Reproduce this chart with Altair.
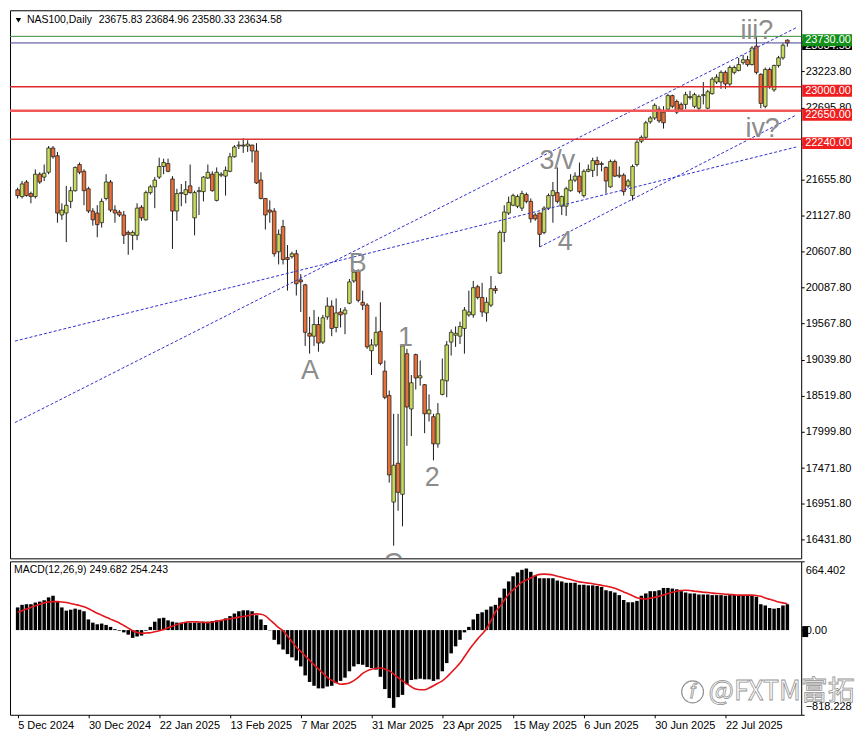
import json
import numpy as np
import pandas as pd
import altair as alt

# ---------------- data ----------------
OPEN = [21507, 21408, 21619, 21451, 21408, 21732, 21690, 21760, 22111, 21999,
        21141, 21169, 21338, 21493, 21872, 21774, 21521, 21198, 21169, 21029,
        21380, 21619, 21212, 21183, 21141, 20888, 20846, 20846, 21254, 21071,
        21465, 21549, 21690, 21844, 21886, 21662, 21198, 21451, 21437, 21563,
        21099, 21479, 21479, 21676, 21732, 21352, 21718, 21704, 21774, 21985,
        22140, 22154, 22140, 22154, 22069, 21647, 21380, 21212, 21198, 20607,
        20973, 20523, 20537, 20579, 20199, 20129, 19426, 19384, 19553, 19299,
        19665, 19820, 19510, 19735, 19707, 19862, 20185, 20326, 19876, 19834,
        19173, 19257, 19454, 18878, 18526, 16980, 17542, 17092, 19131, 18329,
        19117, 18779, 18681, 18259, 18217, 17823, 18540, 18737, 19299, 19398,
        19384, 19496, 19693, 19693, 20101, 19946, 19721, 19834, 20073, 20298,
        20888, 21169, 21282, 21268, 21240, 21437, 21338, 21141, 21169, 20888,
        21240, 21422, 21465, 21268, 21268, 21493, 21647, 21704, 21422, 21774,
        21788, 21929, 21872, 21830, 21549, 21915, 21704, 21718, 21563, 21422,
        21872, 22210, 22266, 22491, 22547, 22674, 22632, 22674, 22871, 22786,
        22744, 22744, 22843, 22716, 22688, 22871, 22688, 22899, 23068, 23068,
        23208, 23039, 23208, 23236, 23349, 23391, 23321, 23588, 23180, 22716,
        23250, 22955, 23307, 23419, 23675.83]
HIGH = [21535, 21633, 21647, 21479, 21802, 21760, 21872, 22140, 22140, 22055,
        21310, 21563, 21549, 21844, 21901, 21802, 21549, 21240, 21282, 21380,
        21732, 21647, 21282, 21212, 21198, 20916, 20916, 21310, 21282, 21493,
        21577, 21690, 21971, 21957, 21957, 21704, 21521, 21591, 21633, 21872,
        21493, 21549, 21704, 21872, 21774, 21830, 21760, 21844, 22041, 22154,
        22210, 22252, 22224, 22160, 22182, 21760, 21385, 21352, 21240, 20930,
        21071, 20705, 20607, 20635, 20284, 20143, 19665, 19763, 19665, 19693,
        19946, 19904, 19932, 19792, 19806, 20213, 20354, 20354, 20045, 19862,
        19342, 19665, 19876, 19032, 18597, 18259, 18259, 19271, 19201, 18821,
        19131, 19032, 18690, 18540, 18259, 18414, 19060, 19313, 19482, 19524,
        19595, 19806, 20045, 20185, 20129, 20157, 19946, 20256, 20115, 20916,
        21282, 21408, 21451, 21437, 21493, 21465, 21380, 21169, 21175, 21268,
        21451, 21619, 21830, 21422, 21549, 21732, 21760, 21901, 21802, 21872,
        21971, 21985, 21915, 21844, 21943, 21943, 21844, 21746, 21662, 21872,
        22224, 22294, 22505, 22575, 22758, 22716, 22716, 22899, 22885, 22814,
        22772, 22927, 22941, 22913, 22885, 23068, 22955, 23138, 23180, 23236,
        23236, 23307, 23307, 23419, 23461, 23447, 23588, 23728, 23194, 23278,
        23278, 23321, 23447, 23630, 23684.96]
LOW = [21380, 21380, 21408, 21310, 21380, 21591, 21633, 21732, 21957, 21029,
       21071, 20748, 21240, 21479, 21732, 21282, 21169, 20987, 20818, 20959,
       21352, 21183, 21029, 21113, 20720, 20565, 20635, 20776, 21057, 21057,
       21437, 21240, 21662, 21732, 21760, 20649, 21057, 21268, 21310, 21451,
       20846, 21141, 21338, 21662, 21479, 21338, 21690, 21422, 21760, 21971,
       22097, 22041, 22055, 21901, 21591, 21366, 20930, 21029, 20537, 20424,
       20424, 20045, 20509, 19974, 19735, 19243, 19131, 19243, 19159, 19271,
       19623, 19384, 19440, 19510, 19412, 19848, 20157, 19876, 19763, 19201,
       18821, 19229, 18962, 18470, 17261, 16347, 16853, 16628, 17795, 17936,
       18611, 18667, 17978, 18147, 17584, 17767, 18526, 18498, 19103, 19229,
       19271, 19131, 19665, 19651, 19918, 19665, 19595, 19806, 20002, 20284,
       20748, 21141, 21268, 21240, 21198, 21310, 21029, 21057, 20677, 20860,
       21212, 21029, 21310, 21141, 21127, 21479, 21619, 21451, 21394, 21760,
       21690, 21704, 21774, 21451, 21535, 21690, 21676, 21422, 21535, 21352,
       21844, 22182, 22238, 22463, 22519, 22477, 22393, 22660, 22688, 22604,
       22646, 22674, 22814, 22688, 22660, 22744, 22674, 22885, 23039, 22969,
       22969, 23011, 23180, 23222, 23321, 23292, 23307, 23180, 22688, 22688,
       22969, 22927, 23278, 23391, 23580.33]
CLOSE = [21422, 21591, 21422, 21408, 21732, 21619, 21746, 22111, 21985, 21169,
         21212, 21282, 21493, 21830, 21760, 21493, 21198, 21071, 21001, 21338,
         21619, 21212, 21169, 21141, 20846, 20860, 20888, 21240, 21099, 21465,
         21549, 21647, 21844, 21901, 21774, 21198, 21451, 21465, 21507, 21465,
         21465, 21493, 21690, 21760, 21493, 21760, 21732, 21788, 21985, 22126,
         22154, 22140, 22168, 22069, 21605, 21380, 21141, 21183, 20579, 20860,
         20495, 20495, 20579, 20143, 20171, 19440, 19384, 19553, 19285, 19651,
         19820, 19496, 19721, 19693, 19763, 20171, 20312, 19904, 19834, 19229,
         19257, 19440, 18990, 18498, 17373, 17514, 17120, 19243, 18357, 18709,
         18779, 18810, 18259, 18315, 17823, 18259, 18751, 19257, 19440, 19426,
         19524, 19763, 19735, 20087, 19946, 19735, 19876, 20073, 20045, 20888,
         21183, 21324, 21422, 21408, 21451, 21338, 21085, 21085, 20860, 21240,
         21422, 21493, 21338, 21408, 21521, 21647, 21704, 21479, 21774, 21802,
         21929, 21872, 21886, 21633, 21915, 21704, 21718, 21479, 21633, 21844,
         22196, 22266, 22477, 22547, 22730, 22505, 22477, 22871, 22716, 22632,
         22674, 22885, 22857, 22885, 22857, 22885, 22927, 23110, 23138, 23208,
         23039, 23278, 23278, 23321, 23391, 23321, 23560, 23208, 22758, 23250,
         22997, 23307, 23419, 23602, 23634.58]

MACD_MAIN = [219, 244, 250, 250, 266, 275, 288, 316, 332, 275,
             219, 188, 197, 207, 197, 182, 103, 72, 56, 63,
             50, 31, 9, -6, -22, -44, -75, -63, -53, -6,
             31, 81, 113, 119, 94, 81, 72, 72, 72, 72,
             72, 72, 81, 81, 88, 94, 94, 113, 135, 160,
             182, 191, 191, 182, 144, 103, 50, -3, -94, -138,
             -188, -232, -263, -294, -351, -438, -501, -538, -563, -563,
             -545, -538, -513, -491, -460, -398, -351, -329, -335, -357,
             -366, -382, -451, -570, -657, -751, -648, -626, -523, -482,
             -476, -470, -476, -476, -491, -476, -398, -319, -225, -157,
             -94, -22, 31, 103, 157, 172, 197, 228, 244, 313,
             401, 470, 520, 557, 582, 595, 563, 526, 501, 501,
             501, 501, 479, 470, 457, 457, 457, 438, 438, 432,
             432, 426, 416, 385, 376, 363, 338, 291, 269, 269,
             282, 332, 354, 376, 376, 385, 407, 407, 401, 394,
             376, 363, 354, 354, 344, 344, 344, 338, 338, 338,
             332, 338, 338, 332, 332, 332, 338, 322, 250, 238,
             213, 207, 213, 238, 249.682]
MACD_SIGNAL = [172, 188, 203, 219, 235, 250, 263, 272, 275, 275,
               272, 266, 257, 247, 238, 225, 207, 185, 163, 144,
               125, 106, 88, 69, 44, 19, -6, -22, -31, -28,
               -25, -16, -6, 6, 22, 38, 53, 66, 75, 81,
               81, 78, 75, 72, 78, 85, 94, 103, 110, 116,
               125, 131, 138, 150, 157, 153, 138, 100, 63, 25,
               -6, -56, -110, -163, -207, -250, -294, -335, -376, -416,
               -457, -485, -507, -523, -520, -510, -488, -457, -419, -394,
               -379, -369, -366, -376, -394, -426, -460, -491, -520, -548,
               -570, -576, -576, -560, -538, -513, -491, -454, -410, -366,
               -319, -257, -194, -138, -85, -38, 16, 88, 175, 228,
               288, 347, 388, 426, 463, 485, 504, 526, 538, 541,
               538, 532, 520, 510, 498, 488, 476, 466, 460, 454,
               448, 441, 432, 426, 416, 404, 388, 369, 351, 332,
               313, 304, 300, 307, 316, 326, 338, 354, 366, 376,
               382, 385, 382, 376, 372, 366, 363, 357, 354, 351,
               347, 344, 341, 338, 338, 338, 338, 335, 326, 310,
               297, 285, 272, 263, 254.243]

DATE_TICKS = [0, 16, 32, 48, 64, 80, 96, 112, 128, 144, 160]
DATE_LABELS = ["5 Dec 2024", "30 Dec 2024", "22 Jan 2025", "13 Feb 2025",
               "7 Mar 2025", "31 Mar 2025", "23 Apr 2025", "15 May 2025",
               "6 Jun 2025", "30 Jun 2025", "22 Jul 2025"]
PRICE_TICKS = [16431.8, 16951.8, 17471.8, 17999.8, 18519.8, 19039.8, 19567.8,
               20087.8, 20607.8, 21127.8, 21655.8, 22175.8, 22695.8, 23223.8]
MACD_TICKS = [664.402, 0.0, -818.228]
SYMBOL = "NAS100,Daily"
MACD_NAME = "MACD(12,26,9)"
MACD_LAST = [249.682, 254.243]

LEVEL_PRICES = [23730.0, 23000.0, 22650.0, 22240.0]
LEVEL_LINE_COLORS = ["#3c8c3c", "#e02828", "#f25858", "#e23434"]
LEVEL_LINE_WIDTHS = [1.0, 1.5, 2.5, 1.5]
LEVEL_BOX_COLORS = ["#12901a", "#f01e1e", "#f01e1e", "#f01e1e"]
BID_PRICE = 23634.58

TREND_X1 = [-0.6, -0.6, 118.0]
TREND_P1 = [18132, 19313, 20677]
TREND_X2 = [176.0, 176.0, 176.0]
TREND_P2 = [23855, 22126, 22589]

WAVE_TEXT = ["A", "B", "1", "2", "C", "3/v", "4", "iii?", "iv?"]
WAVE_X = [66.1, 76.9, 87.7, 93.75, 84.9, 122.0, 123.8, 167.1, 168.4]
WAVE_P = [18878, 20431, 19356, 17331, 16085, 21929, 20748, 23813, 22393]

# ---------------- layout / style ----------------
W, H1, H2 = 794, 550, 154
X_DOMAIN = [-0.6, 176.0]
P_DOMAIN = [16164, 24108]
M_DOMAIN = [-818.228, 664.402]
FONT = "Liberation Sans"
BULL = "#c8d95e"
BEAR = "#e6703a"
PX = (P_DOMAIN[1] - P_DOMAIN[0]) / H1
MPX = (M_DOMAIN[1] - M_DOMAIN[0]) / H2

xs = alt.Scale(domain=X_DOMAIN, nice=False, zero=False)
ps = alt.Scale(domain=P_DOMAIN, nice=False, zero=False)
ms = alt.Scale(domain=M_DOMAIN, nice=False, zero=False)

price_axis = alt.Axis(orient="right", values=PRICE_TICKS, format=".2f", title=None,
                      grid=False, domain=False, tickSize=3, tickColor="#000",
                      labelColor="#000", labelFont=FONT, labelFontSize=11,
                      labelPadding=1, labelFlush=False, labelOverlap=False)
X = alt.X("i:Q", scale=xs, axis=None)

candles = pd.DataFrame({"i": list(range(len(OPEN))), "o": OPEN, "h": HIGH,
                        "l": LOW, "c": CLOSE})
candles["dir"] = np.where(candles["c"] >= candles["o"], "up", "down")

wicks = alt.Chart(candles).mark_rule(color="#1a1a1a", strokeWidth=1).encode(
    x=X, y=alt.Y("l:Q", scale=ps, axis=price_axis), y2="h:Q")
bodies = alt.Chart(candles).mark_bar(size=3.6, stroke="#111", strokeWidth=0.7).encode(
    x=X, y=alt.Y("o:Q", scale=ps, axis=price_axis), y2="c:Q",
    color=alt.Color("dir:N", scale=alt.Scale(domain=["up", "down"], range=[BULL, BEAR]),
                    legend=None))

trend_df = pd.DataFrame({"x1": TREND_X1, "p1": TREND_P1, "x2": TREND_X2, "p2": TREND_P2})
trends = alt.Chart(trend_df).mark_rule(color="#3030d0", strokeWidth=1,
                                       strokeDash=[3, 2]).encode(
    x=alt.X("x1:Q", scale=xs, axis=None), x2="x2:Q",
    y=alt.Y("p1:Q", scale=ps, axis=price_axis), y2="p2:Q")

lines_df = pd.DataFrame({"p": LEVEL_PRICES + [BID_PRICE],
                         "col": LEVEL_LINE_COLORS + ["#43408e"],
                         "w": LEVEL_LINE_WIDTHS + [1.0]})
level_lines = alt.Chart(lines_df).mark_rule().encode(
    y=alt.Y("p:Q", scale=ps, axis=price_axis),
    color=alt.Color("col:N", scale=None),
    strokeWidth=alt.StrokeWidth("w:Q", scale=None))

bid_df = pd.DataFrame({"p": [BID_PRICE], "top": [BID_PRICE + 2 * PX],
                       "bot": [BID_PRICE - 7 * PX], "tp": [BID_PRICE - 3 * PX],
                       "lab": [f"{BID_PRICE:.2f}"]})
bid_box = alt.Chart(bid_df).mark_rect(color="#000").encode(
    x=alt.value(W + 1), x2=alt.value(W + 51),
    y=alt.Y("top:Q", scale=ps, axis=price_axis), y2="bot:Q")
bid_txt = alt.Chart(bid_df).mark_text(align="left", baseline="middle", font=FONT,
                                      fontSize=11, color="#fff").encode(
    x=alt.value(W + 4), y=alt.Y("tp:Q", scale=ps, axis=price_axis), text="lab:N")

box_df = pd.DataFrame({"p": LEVEL_PRICES, "col": LEVEL_BOX_COLORS,
                       "lab": [f"{v:.2f}" for v in LEVEL_PRICES]})
box_df["top"] = box_df["p"] + 2 * PX
box_df["bot"] = box_df["p"] - 10 * PX
box_df["tp"] = box_df["p"] - 4 * PX
box_df = box_df.iloc[::-1].reset_index(drop=True)
level_boxes = alt.Chart(box_df).mark_rect().encode(
    x=alt.value(W + 1), x2=alt.value(W + 51),
    y=alt.Y("top:Q", scale=ps, axis=price_axis), y2="bot:Q",
    color=alt.Color("col:N", scale=None))
level_txt = alt.Chart(box_df).mark_text(align="left", baseline="middle", font=FONT,
                                        fontSize=11, color="#fff").encode(
    x=alt.value(W + 4), y=alt.Y("tp:Q", scale=ps, axis=price_axis), text="lab:N")

wave_df = pd.DataFrame({"t": WAVE_TEXT, "x": WAVE_X, "p": WAVE_P})
waves = alt.Chart(wave_df).mark_text(font=FONT, fontSize=27, color="#8c8c8c",
                                     baseline="middle", align="center", clip=True).encode(
    x=alt.X("x:Q", scale=xs, axis=None), y=alt.Y("p:Q", scale=ps, axis=price_axis),
    text="t:N")

one = pd.DataFrame({"k": [0]})
tri = alt.Chart(one).mark_point(shape="triangle-down", filled=True, size=30,
                                color="#000", opacity=1).encode(
    x=alt.value(8.5), y=alt.value(10))
head1 = alt.Chart(pd.DataFrame({"t": [SYMBOL]})).mark_text(
    align="left", baseline="middle", font=FONT, fontSize=10.5, color="#000").encode(
    x=alt.value(17), y=alt.value(10), text="t:N")
ohlc_txt = " ".join(f"{v:.2f}" for v in [OPEN[-1], HIGH[-1], LOW[-1], CLOSE[-1]])
head2 = alt.Chart(pd.DataFrame({"t": [ohlc_txt]})).mark_text(
    align="left", baseline="middle", font=FONT, fontSize=10.5, color="#000").encode(
    x=alt.value(89), y=alt.value(10), text="t:N")

main = alt.layer(wicks, bodies, trends, level_lines, waves, bid_box, bid_txt,
                 level_boxes, level_txt, tri, head1, head2).properties(width=W, height=H1)

# ---------------- MACD panel ----------------
date_expr = json.dumps(DATE_LABELS) + "[round(datum.value / 16)]"
mx_axis = alt.Axis(values=DATE_TICKS, labelExpr=date_expr, labelAlign="left",
                   labelFlush=False, labelOverlap=False, tickSize=3, tickColor="#000",
                   labelPadding=2, labelFont=FONT, labelFontSize=11, labelColor="#000",
                   domain=False, grid=False, title=None)
my_axis = alt.Axis(orient="right", values=MACD_TICKS,
                   labelExpr="datum.value == 0 ? '0.00' : format(datum.value, '.3f')",
                   labelFlush=True, labelFlushOffset=-3, labelOverlap=False,
                   tickSize=3, tickColor="#000", labelPadding=1, labelFont=FONT,
                   labelFontSize=11, labelColor="#000", domain=False, grid=False,
                   title=None)
MX = alt.X("i:Q", scale=xs, axis=mx_axis)

macd_df = pd.DataFrame({"i": list(range(len(MACD_MAIN))), "m": MACD_MAIN,
                        "s": MACD_SIGNAL})
macd_df["zero"] = 0.0
hist = alt.Chart(macd_df).mark_bar(size=3.5, color="#000").encode(
    x=MX, y=alt.Y("m:Q", scale=ms, axis=my_axis), y2="zero:Q")
sig = alt.Chart(macd_df).mark_line(color="#e3161c", strokeWidth=1.6,
                                   interpolate="monotone").encode(
    x=MX, y=alt.Y("s:Q", scale=ms, axis=my_axis))
zbox_df = pd.DataFrame({"top": [4 * MPX], "bot": [-7 * MPX]})
zbox = alt.Chart(zbox_df).mark_rect(color="#000").encode(
    x=alt.value(W + 1), x2=alt.value(W + 7),
    y=alt.Y("top:Q", scale=ms, axis=my_axis), y2="bot:Q")
mtitle = alt.Chart(pd.DataFrame({"t": [f"{MACD_NAME} {MACD_LAST[0]:.3f} {MACD_LAST[1]:.3f}"]})
                   ).mark_text(align="left", baseline="middle", font=FONT, fontSize=10.5,
                               color="#000").encode(x=alt.value(4), y=alt.value(9), text="t:N")
wm = alt.Chart(pd.DataFrame({"t": ["@FXTM富拓"]})).mark_text(
    align="left", baseline="middle", font="Noto Sans CJK SC", fontSize=27,
    fill="#ffffff", stroke="#939393", strokeWidth=0.8).encode(
    x=alt.value(701), y=alt.value(131), text="t:N")
logo = alt.Chart(one).mark_point(shape="circle", filled=False, size=480,
                                 color="#939393", strokeWidth=1.2, opacity=1).encode(
    x=alt.value(685), y=alt.value(131))
logo_f = alt.Chart(pd.DataFrame({"t": ["f"]})).mark_text(
    align="center", baseline="middle", font=FONT, fontSize=20, fontStyle="italic",
    fill="#ffffff", stroke="#939393", strokeWidth=0.8).encode(
    x=alt.value(685), y=alt.value(131), text="t:N")

macd = alt.layer(hist, sig, zbox, mtitle, logo, logo_f, wm).properties(width=W, height=H2)

chart = alt.vconcat(main, macd, spacing=1, padding=0, background="#ffffff").configure_view(
    stroke="#000", strokeWidth=1)

chart.save("out.html", embed_options={"renderer": "svg", "actions": False})
